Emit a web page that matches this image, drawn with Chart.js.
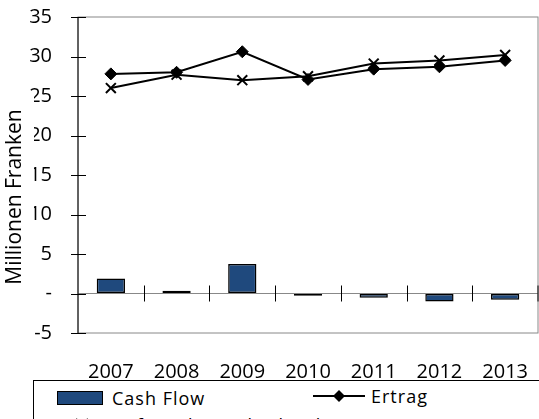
<!DOCTYPE html>
<html>
<head>
<meta charset="utf-8">
<script src="https://cdn.jsdelivr.net/npm/chart.js@4.4.1/dist/chart.umd.min.js"></script>
<style>
    html, body { margin: 0; padding: 0; background: #fff; overflow: hidden; }
    #wrap { position: relative; width: 539px; height: 419px; overflow: hidden; font-family: "Open Sans", sans-serif; }
    #chart { position: absolute; left: 0; top: 0; }
    #legend {
        position: absolute; left: 33px; top: 380px; width: 530px; height: 80px;
        border: 1.5px solid #000; background: #fff; box-sizing: border-box;
        font-size: 18px; color: #000; letter-spacing: 1px;
    }
    .item { position: absolute; display: flex; align-items: center; height: 20px; }
    .swatch { width: 44px; height: 12px; background: #1f497d; border: 1.5px solid #000; margin-right: 9px; }
</style>
</head>
<body>
<div id="wrap">
    <canvas id="chart" width="539" height="419"></canvas>
    <div id="legend">
        <div class="item" style="left:23px; top:7px;"><span class="swatch"></span><span>Cash Flow</span></div>
        <div class="item" style="left:279px; top:5px;">
            <svg width="52" height="16" style="margin-right:6px"><line x1="0" y1="8" x2="52" y2="8" stroke="#000" stroke-width="2"/><polygon points="26,2 32,8 26,14 20,8" fill="#000"/></svg>
            <span>Ertrag</span>
        </div>
        <div class="item" style="left:40px; top:34px;">
            <svg width="16" height="16" style="margin-right:22px"><path d="M2 2 L14 14 M14 2 L2 14" stroke="#000" stroke-width="2"/></svg>
            <span>Aufwand vor Abschreibungen</span>
        </div>
    </div>
</div>
<script>
// Données du graphique
const years = ['2007', '2008', '2009', '2010', '2011', '2012', '2013'];
const cashFlow = [1.9, 0.35, 3.75, -0.3, -0.55, -1.0, -0.8];
const ertrag = [27.8, 28.0, 30.6, 27.1, 28.4, 28.7, 29.5];
const aufwand = [26.0, 27.7, 27.0, 27.5, 29.1, 29.5, 30.2];
const yTicks = [-5, 0, 5, 10, 15, 20, 25, 30, 35];

// Cadre gris, ligne zéro et graduations croisées
const framePlugin = {
    id: 'frame',
    beforeDatasetsDraw(chart) {
        const ctx = chart.ctx;
        const a = chart.chartArea;
        const y0 = chart.scales.y.getPixelForValue(0);
        ctx.save();
        ctx.strokeStyle = '#888';
        ctx.lineWidth = 1;
        ctx.strokeRect(a.left, a.top, a.right - a.left, a.bottom - a.top);
        ctx.beginPath();
        ctx.moveTo(a.left, y0);
        ctx.lineTo(a.right, y0);
        ctx.stroke();
        ctx.restore();
    },
    afterDraw(chart) {
        const ctx = chart.ctx;
        const a = chart.chartArea;
        const x = chart.scales.x;
        const y = chart.scales.y;
        const y0 = y.getPixelForValue(0);
        ctx.save();
        ctx.strokeStyle = '#000';
        ctx.lineWidth = 1;
        ctx.beginPath();
        ctx.moveTo(a.left, a.top);
        ctx.lineTo(a.left, a.bottom);
        yTicks.forEach(v => {
            const py = Math.round(y.getPixelForValue(v)) + 0.5;
            ctx.moveTo(a.left - 7, py);
            ctx.lineTo(a.left + 8, py);
        });
        for (let i = 1; i <= years.length; i++) {
            const px = i < years.length
                ? Math.round((x.getPixelForValue(i - 1) + x.getPixelForValue(i)) / 2) + 0.5
                : a.right;
            ctx.moveTo(px, y0 - 8);
            ctx.lineTo(px, y0 + 8);
        }
        ctx.stroke();

        // Titre de l'axe Y avec fond blanc (recouvre une partie des étiquettes)
        ctx.fillStyle = '#fff';
        ctx.fillRect(0, 92, 34, 205);
        ctx.translate(15, 197);
        ctx.rotate(-Math.PI / 2);
        ctx.fillStyle = '#000';
        ctx.font = '21px "Open Sans"';
        ctx.textAlign = 'center';
        ctx.textBaseline = 'middle';
        ctx.fillText('Millionen Franken', 0, 0);
        ctx.restore();
    }
};

// Graduations invisibles servant d'espacement pour les étiquettes
const spacerGrid = len => ({
    display: true,
    drawOnChartArea: false,
    drawTicks: true,
    tickLength: len,
    color: 'rgba(0,0,0,0)'
});

document.addEventListener('DOMContentLoaded', function() {
    new Chart(document.getElementById('chart'), {
        data: {
            labels: years,
            datasets: [{
                type: 'line',
                label: 'Ertrag',
                data: ertrag,
                borderColor: '#000',
                backgroundColor: '#000',
                borderWidth: 2,
                pointStyle: 'rectRot',
                pointRadius: 6,
                pointBorderWidth: 1,
                tension: 0
            }, {
                type: 'line',
                label: 'Aufwand vor Abschreibungen',
                data: aufwand,
                borderColor: '#000',
                backgroundColor: '#000',
                borderWidth: 2,
                pointStyle: 'crossRot',
                pointRadius: 7,
                pointBorderWidth: 2,
                tension: 0
            }, {
                type: 'bar',
                label: 'Cash Flow',
                data: cashFlow,
                backgroundColor: '#1f497d',
                borderColor: '#000',
                borderWidth: 1.5,
                borderSkipped: false,
                categoryPercentage: 1,
                barPercentage: 0.43
            }]
        },
        options: {
            responsive: false,
            animation: false,
            layout: { autoPadding: false, padding: { top: 17, right: 1, left: 0, bottom: 0 } },
            plugins: {
                legend: { display: false },
                tooltip: { enabled: false }
            },
            scales: {
                x: {
                    offset: true,
                    grid: spacerGrid(27),
                    border: { display: false },
                    ticks: {
                        color: '#000',
                        font: { family: 'Open Sans', size: 20 },
                        padding: 0,
                        maxRotation: 0
                    },
                    afterFit: s => {
                        s.height = 86;
                        s.paddingLeft = 0;
                        s.paddingRight = 0;
                    }
                },
                y: {
                    min: -5,
                    max: 35,
                    grid: spacerGrid(26),
                    border: { display: false },
                    ticks: {
                        stepSize: 5,
                        color: '#000',
                        font: { family: 'Open Sans', size: 20 },
                        padding: 0,
                        callback: v => v === 0 ? '-' : v
                    },
                    afterFit: s => { s.width = 78; }
                }
            }
        },
        plugins: [framePlugin]
    });
});
</script>
</body>
</html>
